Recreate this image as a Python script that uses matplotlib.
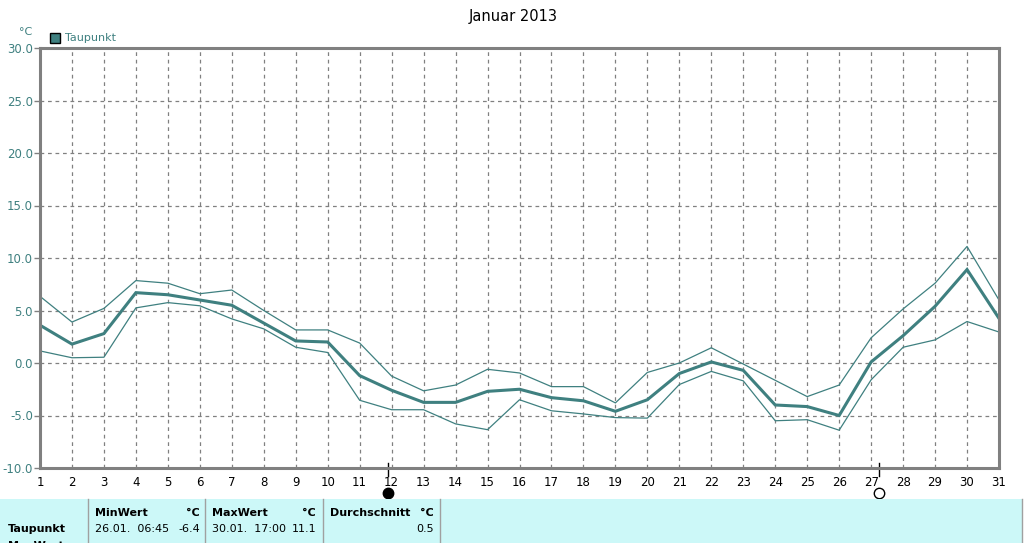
import numpy as np
import matplotlib.pyplot as plt
from matplotlib.patches import Rectangle
from matplotlib.transforms import blended_transform_factory

# Taupunkt Januar 2013, Tageswerte
days = list(range(1, 32))
dew_mean = [3.6, 1.8, 2.8, 6.7, 6.5, 6.0, 5.5, 3.8, 2.1, 2.0, -1.2, -2.6, -3.75, -3.75, -2.7, -2.5,
            -3.3, -3.6, -4.6, -3.5, -1.0, 0.1, -0.7, -4.0, -4.15, -5.0, 0.1, 2.6, 5.4, 8.9, 4.25]
dew_max = [6.35, 3.9, 5.2, 7.85, 7.6, 6.6, 6.95, 5.0, 3.15, 3.15, 1.9, -1.25, -2.65, -2.1, -0.6, -0.95,
           -2.25, -2.25, -3.8, -0.9, 0.0, 1.45, -0.1, -1.65, -3.2, -2.1, 2.4, 5.15, 7.6, 11.1, 6.0]
dew_min = [1.15, 0.5, 0.55, 5.25, 5.75, 5.45, 4.2, 3.25, 1.5, 1.0, -3.55, -4.45, -4.45, -5.8, -6.35, -3.5,
           -4.55, -4.85, -5.2, -5.25, -2.05, -0.8, -1.7, -5.5, -5.4, -6.4, -1.6, 1.5, 2.2, 3.95, 2.95]
moon_days = [11.9, 27.25]   # Neumond, Vollmond
moon_filled = [True, False]

y_ticks = [-10.0, -5.0, 0.0, 5.0, 10.0, 15.0, 20.0, 25.0, 30.0]

table_cols = ['MinWert', 'MaxWert', 'Durchschnitt']
table_vals = [('26.01.  06:45', '-6.4'), ('30.01.  17:00', '11.1'), ('', '0.5')]

teal = '#3f8080'
gridgray = '#808080'

W, H = 1024, 543
fig = plt.figure(figsize=(W / 100, H / 100), dpi=100)
fig.patch.set_facecolor('white')

def fx(px):
    return px / W

def fy(py):
    return 1 - py / H

ax = fig.add_axes([fx(40), fy(468), fx(999) - fx(40), fy(48) - fy(468)])
ax.set_xlim(1, 31)
ax.set_ylim(-10, 30)

ax.plot(days, dew_max, color=teal, lw=0.9)
ax.plot(days, dew_min, color=teal, lw=0.9)
ax.plot(days, dew_mean, color=teal, lw=2.2, solid_joinstyle='miter')

ax.set_xticks(days)
ax.set_xticklabels([str(d) for d in days], fontsize=8.5)
ax.set_yticks(y_ticks)
ax.set_yticklabels([f'{v:.1f}' for v in y_ticks], fontsize=8.5, color=teal)
ax.tick_params(axis='x', length=0, pad=6)
ax.tick_params(axis='y', length=4, width=1, color=gridgray, pad=1)
ax.grid(True, color=gridgray, linestyle=(0, (3, 3)), lw=0.9)

for s in ax.spines.values():
    s.set_color(gridgray)
    s.set_linewidth(2.2)

# Mondphasen
tr = blended_transform_factory(ax.transData, ax.transAxes)
for d, filled in zip(moon_days, moon_filled):
    ax.plot([d, d], [0.012, -0.02], color='black', lw=1, transform=tr, clip_on=False)
    ax.plot(d, -0.06, marker='o', ms=7.5, mfc='black' if filled else 'white',
            mec='black', mew=1, transform=tr, clip_on=False)

fig.text(fx(513), fy(16), 'Januar 2013', fontsize=10.5, ha='center', va='center')
fig.text(fx(19), fy(32), '°C', fontsize=8, color=teal, ha='left', va='center')
fig.patches.append(Rectangle((fx(50), fy(43)), fx(10), fy(33) - fy(43), transform=fig.transFigure,
                             facecolor=teal, edgecolor='black', lw=1))
fig.text(fx(65), fy(38), 'Taupunkt', fontsize=8, color=teal, ha='left', va='center')

# Statistik-Tabelle
fig.patches.append(Rectangle((0, 0), fx(1022), fy(499), transform=fig.transFigure,
                             facecolor='#ccf8f8', edgecolor='none', zorder=0))
for px in [88, 205, 323, 440]:
    fig.add_artist(plt.Line2D([fx(px), fx(px)], [0, fy(499)], color='#a0a0a0', lw=1))
fig.add_artist(plt.Line2D([fx(1022), fx(1022)], [0, fy(499)], color='#a0a0a0', lw=1))

fig.text(fx(8), fy(529), 'Taupunkt', fontsize=8, fontweight='bold', va='center')
fig.text(fx(8), fy(546), 'MaxWert', fontsize=8, fontweight='bold', va='center')
col_left = [95, 212, 330]
col_right = [200, 316, 434]
for name, (when, val), xl, xr in zip(table_cols, table_vals, col_left, col_right):
    fig.text(fx(xl), fy(513), name, fontsize=8, fontweight='bold', va='center')
    fig.text(fx(xr), fy(513), '°C', fontsize=8, fontweight='bold', va='center', ha='right')
    fig.text(fx(xl), fy(529), when, fontsize=8, va='center')
    fig.text(fx(xr), fy(529), val, fontsize=8, va='center', ha='right')

fig.savefig('out.png', dpi=100)
